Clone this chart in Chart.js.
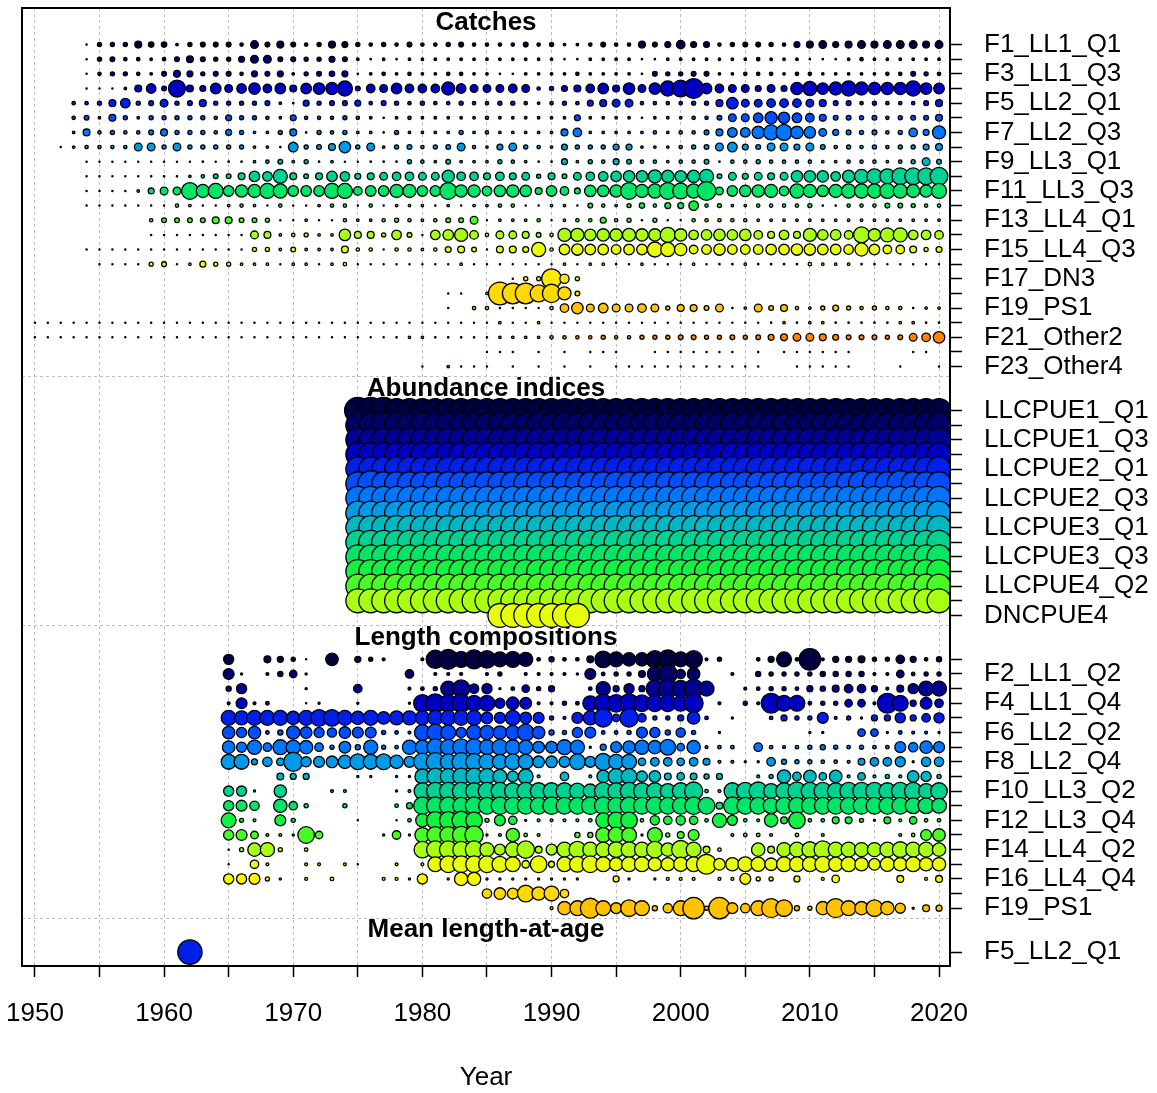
<!DOCTYPE html>
<html>
<head>
<meta charset="utf-8">
<script src="https://cdn.jsdelivr.net/npm/chart.js@4.4.0/dist/chart.umd.min.js"></script>
<style>
  html, body { margin: 0; padding: 0; background: #fff; }
</style>
</head>
<body>
<canvas id="dataPlot" width="1157" height="1093"></canvas>
<script>
const FONT = "'Liberation Sans', Arial, Helvetica, sans-serif";

const xTickYears = [1950, 1955, 1960, 1965, 1970, 1975, 1980, 1985, 1990, 1995, 2000, 2005, 2010, 2015, 2020];
const sectionTitles = ["Catches", "Abundance indices", "Length compositions", "Mean length-at-age"];

// ---- catches (relative catch, 0-100) ----
const catchFleets = ["F1_LL1_Q1", "F2_LL1_Q2", "F3_LL1_Q3", "F4_LL1_Q4", "F5_LL2_Q1", "F6_LL2_Q2", "F7_LL2_Q3", "F8_LL2_Q4",
  "F9_LL3_Q1", "F10_LL3_Q2", "F11_LL3_Q3", "F12_LL3_Q4", "F13_LL4_Q1", "F14_LL4_Q2", "F15_LL4_Q3", "F16_LL4_Q4",
  "F17_DN3", "F18_DN4", "F19_PS1", "F20_Other1", "F21_Other2", "F22_Other3", "F23_Other4"];
const catchShown = ["F1_LL1_Q1", "F3_LL1_Q3", "F5_LL2_Q1", "F7_LL2_Q3", "F9_LL3_Q1", "F11_LL3_Q3", "F13_LL4_Q1",
  "F15_LL4_Q3", "F17_DN3", "F19_PS1", "F21_Other2", "F23_Other4"];
const catchStart = [1954, 1954, 1954, 1954, 1953, 1953, 1953, 1952, 1954, 1954, 1954, 1954, 1959, 1959, 1954, 1955,
  1987, 1982, 1982, 1950, 1950, 1985, 1980];
const catchValues = [
  [0.5,4,4,4,9,6,6,2,4,5,5,5,3,11,5,9,5,3,4,9, 7,4,3,4,3,5,3,3,4,5,3,3,3,3,5,3,4,2,2,3,5,3,3, 9,5,7,13,7,7,3,4,5,5,4,3,7,9,11,7,9,11,9,11,11,11,9,11],
  [0.5,4,5,3,3,2,3,5,9,5,4,4,7,11,11,5,5,4,4,7, 5,2,1,2,1,2,2,2,2,2,2,2,2,2,2,2,2,1,1,2,2,2,2, 1,1,2,2,2,2,2,2,2,3,2,2,2,1,1,1,2,3,2,2,2,2,2,2],
  [0.5,3,4,4,3,2,5,9,7,4,5,5,3,7,5,7,2,4,5,6, 7,1,2,3,2,3,2,2,3,3,2,2,1,1,2,2,2,2,3,2,2,2,2, 1,5,4,4,5,5,2,2,3,3,3,2,3,3,2,2,2,2,2,3,3,5,4,3],
  [0.5,0.5,0.5,2,9,16,5,45,9,7,19,11,16,22,13,19,9,19,22,25, 36,5,13,11,19,13,13,13,28,16,11,11,11,13,11,3,4,7,9,13,19,9,22, 11,22,36,44,60,19,13,11,11,7,11,7,25,32,22,28,36,28,25,25,25,36,22,19],
  [3,3,4,9,16,4,5,11,4,5,9,4,4,4,4,5,2,1,7,4,5, 5,7,3,5,4,3,4,3,3,4,3,3,4,4,3,2,3,4,3,7,9,11,11, 3,3,3,3,4,4,9,22,11,11,13,13,13,11,9,5,5,3,4,3,3,3,5,9],
  [3,5,2,9,4,2,4,4,4,4,4,3,7,4,4,3,2,7,3,3,3, 4,3,2,1,2,3,2,2,2,2,2,3,2,2,2,2,2,2,7,2,2,2,2, 1,2,2,2,3,3,5,11,11,16,25,22,16,13,9,5,5,4,5,3,4,5,5,9],
  [2,9,3,4,3,3,5,9,4,4,4,3,7,4,2,2,4,9,1,4,3, 4,2,2,1,4,2,2,2,2,4,2,3,2,2,2,2,2,9,13,2,2,2,2, 2,3,2,3,3,5,9,16,16,25,36,40,25,22,11,7,5,4,5,3,4,13,7,28],
  [0.5,2,3,3,3,3,11,11,4,11,4,4,4,4,4,2,2,1,16,4,5,9, 22,4,11,2,4,5,3,4,5,11,3,2,7,11,4,3,2,7,4,4,4,7,7, 2,2,2,3,4,5,11,16,7,5,11,11,7,11,5,3,4,3,4,3,4,4,7,9],
  [0.5,0.5,0.5,0.5,0.5,0.5,0.5,0.5,0.5,1,0.5,1,1,2,3,5,2,4,1,2, 0.5,0.5,1,1,1,4,3,2,5,2,2,2,4,3,2,1,1,7,2,4,3,7,5, 3,3,2,3,3,5,1,3,3,4,3,3,3,3,2,2,3,3,3,2,3,4,11,5],
  [0.5,0.5,0.5,0.5,0.5,1,1,1,2,3,5,5,9,19,16,32,9,5,9,19, 16,7,9,11,13,13,11,11,25,13,13,9,13,9,11,4,9,5,11,13,16,19,22, 22,28,25,22,25,32,5,11,7,11,9,11,22,22,22,16,25,32,36,36,44,44,44,49],
  [0.5,0.5,0.5,0.5,2,7,11,11,44,28,36,19,25,28,36,32,19,19,19,36, 36,13,19,19,28,28,19,19,44,25,25,16,22,25,22,9,19,13,7,22,22,25,44, 28,32,44,40,32,54,11,19,22,25,28,16,32,28,22,28,32,32,32,36,32,28,25,36],
  [0.5,0.5,0.5,0.5,0.5,0.5,0.5,3,2,0.5,0.5,2,3,2,0.5,3,0.5,0.5,2,3, 3,0.5,3,0.5,2,2,2,1,2,0.5,2,2,3,3,0.5,0.5,2,2,0.5,5,3,2,4, 6,3,7,7,16,3,4,2,2,3,3,3,3,4,1,1,3,3,3,5,5,4,3,3],
  [3,5,5,5,5,9,9,5,5,4,0.5,0.5,2,0.5,0.5, 3,2,2,3,4,3,2,3,5,5,11,0.5,2,2,2,3,0.5,2,3,3,7,3,4, 1,4,1,0.5,3,3,3,3,3,2,2,2,2,2,2,2,2,2,2,2,2,2,2,2],
  [0.5,0.5,0.5,0.5,0.5,0.5,0.5,0.5,11,9,2,3,4,2,2, 22,9,9,4,16,5,0.5,16,19,28,13,3,11,11,9,5,3,28,28,22,25,25,28, 25,25,36,25,16,19,22,19,22,13,9,16,9,28,19,19,13,40,25,32,32,16,16,13],
  [0.5,0.5,0.5,0.5,0.5,0.5,0.5,0.5,0.5,0.5,0.5,0.5,0.5,4,4,2,5,2,2,2, 9,3,3,0.5,3,3,2,3,7,9,5,0.5,9,9,7,32,3,19,22,19,19,16,19, 19,36,32,25,13,16,22,16,16,16,19,19,22,22,19,19,16,28,19,13,13,9,4,7],
  [0.5,0.5,0.5,0.5,4,5,0.5,2,7,4,4,2,2,2,0.5,2,2,0.5,2, 3,0.5,0.5,0.5,0.5,0.5,0.5,0.5,0.5,2,0.5,0.5,0.5,0.5,0.5,0.5,0.5,2,0.5,2,2,1,0.5, 2,0.5,0.5,0.5,2,0.5,1,1,2,1,1,1,1,3,2,2,2,1,1,0.5,0.5,0.5,0.5,0.5],
  [0.5,4,4,60,15,4],
  [0.5,0.5,null,2,78,66,66,45,52,28,5],
  [0.5,null,3,3,0.5,0.5,0.5,0.5,3,13,22,11,16,11,11, 13,11,4,9,9,5,11,1,2,11,5,9,3,2,4,7,4,3,4,3,3,1,2,2],
  [0.5,0.5,0.5,0.5,0.5,0.5,0.5,0.5,0.5,0.5, 0.5,0.5,0.5,0.5,0.5,0.5,0.5,0.5,0.5,0.5, 0.5,0.5,0.5,0.5,0.5,0.5,0.5,0.5,0.5,0.5,
   0.5,0.5,0.5,0.5,0.5,0.5,2,0.5,0.5,2, 0.5,0.5,0.5,0.5,0.5,0.5,0.5,0.5,0.5,0.5, 0.5,0.5,0.5,0.5,0.5,0.5,0.5,1,2,1, 2,2,1,1,1,1,1,2,2,1, 1],
  [0.5,0.5,0.5,0.5,0.5,0.5,0.5,0.5,0.5,0.5, 0.5,0.5,0.5,0.5,0.5,0.5,0.5,0.5,0.5,0.5, 0.5,0.5,0.5,0.5,0.5,0.5,0.5,0.5,1,2,
   2,1,1,1,1,1,2,2,2,2, 3,3,3,3,4,3,3,4,4,4, 5,5,4,4,5,4,5,7,9,11, 11,9,7,5,5,5,4,5,11,13, 22],
  [0.5,0.5,0.5,null,0.5,null,0.5,null,0.5,0.5, 0.5,null,null,0.5,0.5,0.5,0.5,0.5,0.5,0.5, null,0.5,null,0.5,0.5,0.5,0.5,0.5,0.5,null, null,null,null,0.5,0.5,null],
  [0.5,null,2,0.5,0.5,0.5,null,0.5,null,0.5, null,0.5,null,0.5,null,0.5,0.5,0.5,0.5,0.5, 0.5,0.5,0.5,0.5,0.5,0.5,0.5,null,null,0.5, 0.5,0.5,0.5,0.5,null,null,null,0.5,null,null, 0.5]
];

// ---- abundance indices (relative precision) ----
const indexFleets = ["LLCPUE1_Q1", "LLCPUE1_Q2", "LLCPUE1_Q3", "LLCPUE1_Q4", "LLCPUE2_Q1", "LLCPUE2_Q2", "LLCPUE2_Q3",
  "LLCPUE2_Q4", "LLCPUE3_Q1", "LLCPUE3_Q2", "LLCPUE3_Q3", "LLCPUE4_Q1", "LLCPUE4_Q2", "LLCPUE4_Q3", "DNCPUE4"];
const indexShown = ["LLCPUE1_Q1", "LLCPUE1_Q3", "LLCPUE2_Q1", "LLCPUE2_Q3", "LLCPUE3_Q1", "LLCPUE3_Q3", "LLCPUE4_Q2", "DNCPUE4"];
const indexStart = [1975, 1975, 1975, 1975, 1975, 1975, 1975, 1975, 1975, 1975, 1975, 1975, 1975, 1975, 1986];
const indexValues = [
  [1.1,1.1,1.1,1,1,1,1,1,1,1, 1,1,1,1,1,1,1,1,1,1, 1,1,1,1,1,1,1,1,1,1, 1,1,1,1,1,1,1,1,1,1, 1,1,1,1,1,1],
  [1,1,1.05,1,1,1.05,1,1.05,1,1, 1,1,1,1,1,1,1,1,1,1, 1,1,1,1,1,1,1,1,1,1, 1,1,1,1,1,1,1,1,1,1, 1,1,1,1,1,1],
  [1,1,1,1,1,1,1,1,1,1, 1,1,1,1,1,1,1,1,1,1, 1,1,1,1,1,1,1,1,1,1, 1,1,1,1,1,1,1,1,1,1, 1,1,1,1,1,1],
  [1,1,1,1,1,1,1,1,1,1, 1,1,1,1,1,1,1,1,1,1, 1,1,1,1,1,1,1,1,1,1, 1,1,1,1,1,1,1,1,1,1, 1,1,1,1,1,1],
  [1,1,1,1,1,1,1,1,1,1, 1,1,1,1,1,1,1,1,1,1, 1,1,1,1,1,1,1,1,1,1, 1,1,1,1,1,1,1,1,1,1, 1,1,1,1,1,1],
  [1,1.08,1,1,1,1,1,1,1,1, 1,1,1,1,1,1,1,1,1,1, 1,1,1,1,1,1,1,1,1,1, 1,1,1,1,1,1,1,1,1,1.08, 1,1,1.08,1,1,1],
  [1,1,1,1,1,1,1,1,1,1, 1,1,1,1,1,1,1,1,1,1, 1,1,1,1,1,1,1,1,1,1, 1,1,1,1,1,1,1,1,1,1, 1,1,1,1,1,1],
  [1,1,1,1,1,1,1,1,1,1, 1,1,1,1,1,1,1,1,1,1, 1,1,1,1,1,1,1,1,1,1, 1,1,1,1,1,1,1,1,1,1, 1,1,1,1,1,1],
  [1,1,1,1,1,1,1,1,1,1, 1,1,1,1,1,1,1,1,1,1, 1,1,1,1,1,1,1,1,1,1, 1,1,1,1,1,1,1,1,1,1, 1,1,1,1,1,1],
  [1,1,1,1,1,1,1,1,1,1, 1,1,1,1,1,1,1,1,1,1, 1,1,1,1,1,1,1,1,1,1, 1,1,1,1,1,1,1,1,1,1, 1,1,1,1,1,1],
  [1,1,1,1,1,1,1,1,1,1, 1,1,1,1,1,1,1,1,1,1, 1,1,1,1,1,1,1,1,1,1, 1,1,1,1,1,1,1,1,1,1, 1,1,1,1,1,1],
  [1,1,1,1,1,1,1,1,1,1, 1,1,1,1,1,1,1,1,1,1, 1,1,1,1,1,1,1,1,1,1, 1,1,1,1,1,1,1,1,1,1, 1,1,1,1,1,1],
  [1,1,1,1,1,1,1,1,1,1, 1,1,1,1,1,1,1,1,1,1, 1,1,1,1,1,1,1,1,1,1, 1,1,1,1,1,1,1,1,1,1, 1,1,1,1,1,1],
  [1,1,1,1,1,1,1,1,1,1, 1,1,1,1,1,1,1,1,1,1, 1,1,1,1,1,1,1,1,1,1, 1,1,1,1,1,1,1,1,1,1, 1,1,1,1,1,1],
  [1,1,1,1,1,1,1]
];

// ---- length compositions (relative sample size, 0-100) ----
const lenFleets = ["F1_LL1_Q1", "F2_LL1_Q2", "F3_LL1_Q3", "F4_LL1_Q4", "F5_LL2_Q1", "F6_LL2_Q2", "F7_LL2_Q3", "F8_LL2_Q4",
  "F9_LL3_Q1", "F10_LL3_Q2", "F11_LL3_Q3", "F12_LL3_Q4", "F13_LL4_Q1", "F14_LL4_Q2", "F15_LL4_Q3", "F16_LL4_Q4",
  "F18_DN4", "F19_PS1"];
const lenShown = ["F2_LL1_Q2", "F4_LL1_Q4", "F6_LL2_Q2", "F8_LL2_Q4", "F10_LL3_Q2", "F12_LL3_Q4", "F14_LL4_Q2", "F16_LL4_Q4", "F19_PS1"];
const lenStart = [1965, 1965, 1965, 1965, 1965, 1965, 1965, 1965, 1965, 1965, 1965, 1965, 1965, 1965, 1965, 1965, 1985, 1990];
const lenValues = [
  [22,null,null,11,9,5,1,null,32,null, 9,5,3,null,null,3,64,75,49,69, 59,44,49,40,4,7,4,4,11,54, 44,36,36,59,69,44,59,3,5,null, null,4,9,44,4,87,3,9,9,11, 5,5,16,9,4,7],
  [25,2,null,3,7,13,2,null,null,null, null,null,null,null,16,null,3,3,3,null, 3,5,null,3,3,3,3,2,25,4, 5,5,11,44,69,19,32,null,null,3, null,7,5,5,5,5,7,7,7,7, 3,3,13,4,5,5],
  [7,22,null,null,null,null,2,null,null,null, 16,null,null,null,3,4,5,44,59,19, 22,2,4,13,5,9,null,null,4,40, 9,22,9,59,69,54,69,44,null,null, 3,4,5,5,4,9,7,11,16,16, 9,3,11,22,44,44],
  [3,25,3,4,null,null,1,2,null,null, 2,null,null,null,2,59,69,59,64,49, 49,22,32,28,3,3,5,4,44,64, 59,69,54,54,54,49,69,null,3,null, 5,3,75,49,49,4,5,5,13,13, 3,75,49,9,28,16],
  [44,40,44,44,44,36,44,54,54,44, 36,44,32,40,40,40,44,44,44,44, 28,25,44,28,25,5,3,25,40,64, 13,64,16,5,5,9,32,4,null,2, null,null,4,9,5,5,25,3,5,2, 9,9,22,9,16,22],
  [32,22,32,4,7,36,28,22,19,28, 25,25,5,4,3,49,54,44,22,44, 40,36,40,54,32,7,5,22,25,4, 4,5,25,22,7,19,5,null,2,null, null,null,null,null,null,2,2,null,null,13, 13,2,4,3,3,2],
  [32,22,40,16,44,40,36,16,5,28, 7,40,5,4,40,40,54,49,54,54, 44,49,44,40,28,28,44,40,2,9, 25,32,40,36,49,13,36,3,4,4, null,16,4,3,4,5,7,5,4,5, 4,4,25,19,32,25],
  [44,44,9,19,13,69,22,25,28,36, 49,44,49,36,25,59,64,49,64,54, 49,44,49,44,28,28,25,49,25,54, 44,44,13,16,16,13,16,11,3,3, 2,2,16,7,5,5,4,4,3,11, 16,16,22,2,19,19],
  [null,null,null,null,11,9,9,null,null,null, 2,2,null,2,2,44,54,49,54,54, 49,40,25,44,3,null,16,null,3,32, 49,49,25,28,11,13,11,7,9,null, null,3,5,36,16,32,13,32,3,13, 3,5,3,28,22,5],
  [22,22,2,null,32,null,null,null,3,3, null,null,null,2,3,54,59,59,59,54, 59,59,54,59,54,54,54,49,40,59, 54,59,54,54,44,54,64,4,3,54, 59,64,44,54,64,59,59,54,59,59, 59,54,59,59,44,54],
  [22,25,19,null,36,16,5,null,null,5, null,null,null,4,9,59,59,59,54,59, 54,59,54,54,54,59,54,54,59,59, 54,59,54,59,54,54,59,54,11,59, 54,54,49,54,54,54,54,54,54,54, 54,54,54,49,49,44],
  [44,5,3,null,25,5,null,null,null,null, 1,null,null,1,4,36,59,59,64,54, 5,25,16,2,3,3,3,3,4,44, 54,54,4,19,16,19,16,4,40,22, 4,3,36,11,54,4,4,11,11,5, 2,11,3,13,4,4],
  [22,25,13,3,3,2,54,13,null,null, null,null,2,16,2,44,54,54,59,64, 2,3,36,4,3,null,null,7,7,44, 49,44,2,44,5,11,25,null,null,3, 4,4,3,null,4,null,3,null,null,null, null,null,3,4,25,32],
  [1,5,36,40,5,null,4,null,null,null, null,null,null,null,null,54,59,59,54,59, 40,25,44,59,11,25,44,54,44,44, 49,49,44,54,36,64,44,11,4,null, null,36,11,40,44,49,59,44,44,40, 40,44,49,44,44,36],
  [1,null,16,3,null,null,3,3,null,3, 0.5,null,null,3,null,3,44,54,54,54, 54,49,44,13,54,9,44,49,54,44, 36,44,44,36,36,40,44,75,28,36, 44,40,32,44,44,44,49,40,44,36, 28,40,36,44,36,36],
  [22,22,25,5,2,null,3,null,4,null, null,null,3,3,2,22,null,2,36,36, 2,2,2,2,2,2,2,2,null,null, 9,2,null,2,3,3,3,null,3,3, 25,5,5,null,9,null,3,13,null,null, null,null,11,null,3,11],
  [19,28,25,54,36,44,16],
  [3,36,44,75,44,25,54,44,7,19,44,87,5,87,25,19,44,69,54,7,5,36,69,44,36,54,36,22,2,11,9]
];

// ---- mean length-at-age ----
const malFleets = ["F5_LL2_Q1"];
const malShown = ["F5_LL2_Q1"];
const malStart = [1962];
const malValues = [[110]];

// rich.colors.short style ramp, one colour per fleet number
const fleetColors = ["#000040", "#000066", "#000093", "#0000C2", "#0020E9", "#004EFF", "#0076FF", "#009AE9",
  "#00B8C2", "#01D193", "#04E466", "#13F240", "#49FB25", "#A9FF13", "#E7FD09", "#FAF604", "#FEEA02", "#FFD900",
  "#FFC200", "#FFA600", "#FF8500", "#FF5F00", "#FF3300"];
const fleetNumColor = name => fleetColors[parseInt(name.slice(1), 10) - 1];

const catchSize = v => Math.max(0.6, 1.36 * Math.sqrt(v) - 0.65);
const lenSize = v => Math.max(0.6, 1.22 * Math.sqrt(v) - 0.65);
const indexSize = v => 12.6 * v - 0.65;

const sections = [
  { names: catchFleets, shown: catchShown, start: catchStart, values: catchValues, size: catchSize, color: (n, i) => fleetNumColor(n) },
  { names: indexFleets, shown: indexShown, start: indexStart, values: indexValues, size: indexSize, color: (n, i) => fleetColors[i] },
  { names: lenFleets, shown: lenShown, start: lenStart, values: lenValues, size: lenSize, color: (n, i) => fleetNumColor(n) },
  { names: malFleets, shown: malShown, start: malStart, values: malValues, size: lenSize, color: (n, i) => fleetNumColor(n) }
];

// row layout: one unit per fleet, two empty rows between sections
const rowTicks = [];
const rowLabel = {};
const firstRow = [];
const lastRow = [];
const datasets = [];
let u = 0;
sections.forEach(sec => {
  firstRow.push(u);
  sec.names.forEach((name, i) => {
    rowTicks.push(u);
    if (sec.shown.includes(name)) rowLabel[u] = name;
    const pts = [];
    sec.values[i].forEach((v, k) => {
      if (v != null) pts.push({ x: sec.start[i] + k, y: u, r: sec.size(v) });
    });
    datasets.push({
      data: pts,
      backgroundColor: sec.color(name, i),
      borderColor: "#000",
      borderWidth: 1.3,
      order: -u,
      clip: 0
    });
    u++;
  });
  lastRow.push(u - 1);
  u += 2;
});

const sectionDecor = {
  id: "sectionDecor",
  beforeDatasetsDraw(chart) {
    const { ctx, chartArea: a, scales: { y } } = chart;
    ctx.save();
    ctx.strokeStyle = "#bebebe";
    ctx.lineWidth = 1;
    ctx.setLineDash([3, 3]);
    lastRow.slice(0, -1).forEach(r => {
      const py = Math.round(y.getPixelForValue(r + 0.67)) + 0.5;
      ctx.beginPath();
      ctx.moveTo(a.left, py);
      ctx.lineTo(a.right, py);
      ctx.stroke();
    });
    ctx.setLineDash([]);
    ctx.fillStyle = "#000";
    ctx.font = "bold 26px " + FONT;
    ctx.textAlign = "center";
    ctx.textBaseline = "alphabetic";
    sectionTitles.forEach((t, k) => {
      ctx.fillText(t, (a.left + a.right) / 2, y.getPixelForValue(firstRow[k] - 1));
    });
    ctx.restore();
  },
  afterDatasetsDraw(chart) {
    const { ctx, chartArea: a } = chart;
    ctx.save();
    ctx.strokeStyle = "#000";
    ctx.lineWidth = 2;
    ctx.strokeRect(a.left, a.top, a.right - a.left, a.bottom - a.top);
    ctx.restore();
  }
};

const noScalePadding = s => {
  s.paddingLeft = 0;
  s.paddingRight = 0;
  s.paddingTop = 0;
  s.paddingBottom = 0;
};

new Chart(document.getElementById("dataPlot"), {
  type: "bubble",
  data: { datasets: datasets },
  plugins: [sectionDecor],
  options: {
    responsive: false,
    devicePixelRatio: 1,
    animation: false,
    events: [],
    layout: { autoPadding: false, padding: { left: 22, top: 8, right: 0, bottom: 0 } },
    plugins: {
      legend: { display: false },
      tooltip: { enabled: false }
    },
    scales: {
      x: {
        type: "linear",
        position: "bottom",
        min: 1949,
        max: 2020.85,
        afterBuildTicks: s => { s.ticks = xTickYears.map(v => ({ value: v })); },
        afterFit: s => { s.height = 127; noScalePadding(s); },
        ticks: {
          autoSkip: false,
          maxRotation: 0,
          color: "#000",
          padding: 21,
          font: { family: FONT, size: 26 },
          callback: v => (v % 10 === 0 ? String(v) : "")
        },
        grid: { color: "#bebebe", lineWidth: 1, tickColor: "#000", tickLength: 11, tickWidth: 1.5 },
        border: { display: false, dash: [3, 3] },
        title: { display: true, text: "Year", color: "#000", font: { family: FONT, size: 26 }, padding: { top: 0, bottom: 0 } }
      },
      y: {
        type: "linear",
        position: "right",
        reverse: true,
        min: -2.5,
        max: 62.95,
        afterBuildTicks: s => { s.ticks = rowTicks.map(v => ({ value: v })); },
        afterFit: s => { s.width = 207; noScalePadding(s); },
        ticks: {
          autoSkip: false,
          color: "#000",
          padding: 22,
          font: { family: FONT, size: 26 },
          callback: v => rowLabel[v] || ""
        },
        grid: { drawOnChartArea: false, tickColor: "#000", tickLength: 12, tickWidth: 1.5 },
        border: { display: false }
      }
    }
  }
});
</script>
</body>
</html>
